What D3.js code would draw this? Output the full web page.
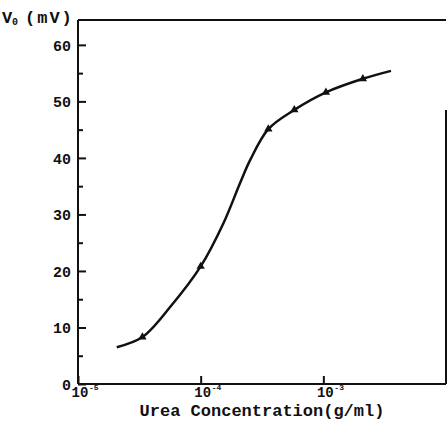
<!DOCTYPE html>
<html><head><meta charset="utf-8">
<script src="https://cdn.jsdelivr.net/npm/d3@7"></script>
<style>
html,body{margin:0;padding:0;background:#fff;}
svg{display:block;}
text{font-family:"Liberation Mono","DejaVu Sans Mono",monospace;font-weight:bold;fill:#111;}
</style></head>
<body>
<svg id="c" width="448" height="432"></svg>
<script>
// Data
const concentration = [2.07e-5, 3.35e-5, 5.68e-5, 1.0e-4, 1.53e-4, 2.1e-4, 2.53e-4, 3.56e-4, 5.8e-4, 1.05e-3, 2.1e-3, 3.56e-3]; // g/ml
const voltage       = [6.5, 8.3, 13.7, 20.8, 28.4, 35.6, 39.6, 45.1, 48.5, 51.6, 54.0, 55.4]; // mV
const markerConc    = [3.35e-5, 1.0e-4, 3.56e-4, 5.8e-4, 1.05e-3, 2.1e-3];
const markerVolt    = [8.3, 20.8, 45.1, 48.5, 51.6, 54.0];
const yMajorTicks   = [0, 10, 20, 30, 40, 50, 60];
const yMinorTicks   = [5, 15, 25, 35, 45, 55];
const xTicks        = [1e-5, 1e-4, 1e-3];
const xTickExp      = ["-5", "-4", "-3"];

const svg = d3.select("#c");
const L = 78, R = 446, T = 20, B = 384;
const x = d3.scaleLog().domain([1e-5, 1e-2]).range([L, R]);
const y = d3.scaleLinear().domain([0, 64.4]).range([B, T]);
const ink = "#111";

// Y axis major
const gy = svg.append("g").attr("transform", `translate(${L},0)`)
  .call(d3.axisLeft(y).tickValues(yMajorTicks).tickSizeInner(-8).tickSizeOuter(0).tickPadding(7).tickFormat(d3.format("d")));
gy.select(".domain").remove();
gy.selectAll("line").attr("stroke", ink).attr("stroke-width", 2);
gy.selectAll("text").style("font-size", "15px").attr("dy", "0.35em");
// Y axis minor
const gym = svg.append("g").attr("transform", `translate(${L},0)`)
  .call(d3.axisLeft(y).tickValues(yMinorTicks).tickSizeInner(-5).tickSizeOuter(0).tickFormat(""));
gym.select(".domain").remove();
gym.selectAll("line").attr("stroke", ink).attr("stroke-width", 2);

// X axis
const gx = svg.append("g").attr("transform", `translate(0,${B})`)
  .call(d3.axisBottom(x).tickValues(xTicks).tickSizeInner(-8).tickSizeOuter(0).tickFormat(""));
gx.select(".domain").remove();
gx.selectAll("line").attr("stroke", ink).attr("stroke-width", 2);

xTicks.forEach((v, i) => {
  svg.append("text").attr("x", x(v) + 2).attr("y", B + 13)
    .attr("text-anchor", "middle").style("font-size", "14px").text("10");
  svg.append("text").attr("x", x(v) + 11).attr("y", B + 6)
    .attr("text-anchor", "start").style("font-size", "8px").text(xTickExp[i]);
});

// Frame
const frame = svg.append("g").attr("stroke", ink).attr("stroke-width", 2).attr("fill", "none");
frame.append("line").attr("x1", L).attr("x2", L).attr("y1", T).attr("y2", B);
frame.append("line").attr("x1", L).attr("x2", R).attr("y1", T).attr("y2", T);
frame.append("line").attr("x1", L).attr("x2", R).attr("y1", B).attr("y2", B);
frame.append("line").attr("x1", R).attr("x2", R).attr("y1", 110).attr("y2", B);

// Curve
const pts = concentration.map((c, i) => [c, voltage[i]]);
svg.append("path").datum(pts)
  .attr("d", d3.line().x(d => x(d[0])).y(d => y(d[1])).curve(d3.curveCatmullRom.alpha(0.5)))
  .attr("fill", "none").attr("stroke", ink).attr("stroke-width", 2.5);

// Markers
svg.append("g").selectAll("path").data(markerConc.map((c, i) => [c, markerVolt[i]]))
  .join("path")
  .attr("transform", d => `translate(${x(d[0])},${y(d[1])})`)
  .attr("d", d3.symbol().type(d3.symbolTriangle).size(30))
  .attr("fill", ink);

// Axis titles
svg.append("text").attr("x", 2).attr("y", 23).style("font-size", "17px").text("V");
svg.append("text").attr("x", 12).attr("y", 25).style("font-size", "10px").text("0");
svg.append("text").attr("x", 25).attr("y", 23).style("font-size", "17px").style("letter-spacing", "2px").text("(mV)");

svg.append("text").attr("x", 262).attr("y", 416).attr("text-anchor", "middle")
  .style("font-size", "17px").text("Urea Concentration(g/ml)");
</script>
</body></html>
